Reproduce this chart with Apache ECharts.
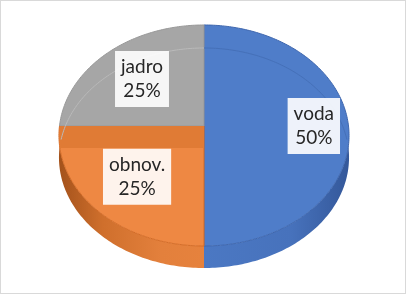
<!DOCTYPE html>
<html>
<head>
<meta charset="utf-8">
<script src="https://cdn.jsdelivr.net/npm/echarts@6/dist/echarts.min.js"></script>
<style>
  html, body { margin: 0; padding: 0; background: #fff; }
  #chart { width: 406px; height: 294px; box-sizing: border-box; border: 1px solid #D9D9D9; }
</style>
</head>
<body>
<div id="chart"></div>
<script>
// ---- data ----
const categories = ['voda', 'obnov.', 'jadro'];
const values = [50, 25, 25];

// ---- styles / layout (not data) ----
const topColors   = ['#4F7DC9', '#EE8843', '#A6A6A6'];
const edgeColors  = ['#3F67AE', '#D46C27', '#999999'];
const wallColors  = ['#456FB8', '#E07B35', '#999999'];
const backLineColors = ['#4570B8', '#E07B35', '#BABABA'];
const sideGradients = [
  [[0, '#4B78C3'], [0.6, '#4772BC'], [1, '#34589A']],
  [[0, '#A4521B'], [0.3, '#CF6F2C'], [0.7, '#E3803C'], [1, '#E6823D']],
  [[0, '#8F8F8F'], [1, '#A0A0A0']]
];
const labelRadius = [0.76, 0.63, 0.63];

const CX = 203, CY = 125, RX = 144.5, RY = 109.7, K = 0.086, DEPTH = 22;

function proj(theta, r, dz) {
  const u = r * Math.sin(theta), v = -r * Math.cos(theta);
  const s = 1 / (1 - K * v);
  return [CX + RX * u * s, CY + RY * v * s + dz];
}
function arc(a, b, r, dz) {
  const pts = [];
  const n = Math.max(2, Math.ceil(Math.abs(b - a) / (Math.PI / 180)));
  for (let j = 0; j <= n; j++) pts.push(proj(a + (b - a) * j / n, r, dz));
  return pts;
}

const total = values.reduce((s, v) => s + v, 0);
const chart = echarts.init(document.getElementById('chart'), null, { renderer: 'canvas' });

function renderItem(params, api) {
  const i = params.dataIndex;
  const val = api.value(0);
  let before = 0;
  for (let j = 0; j < i; j++) before += values[j];
  const a0 = before / total * Math.PI * 2;
  const a1 = a0 + val / total * Math.PI * 2;
  const children = [];

  // outer side wall (front half)
  const sa = Math.max(a0, Math.PI / 2), sb = Math.min(a1, Math.PI * 3 / 2);
  if (sb > sa) {
    const pts = arc(sa, sb, 1, 0).concat(arc(sb, sa, 1, DEPTH));
    children.push({
      type: 'polygon', shape: { points: pts },
      style: { fill: new echarts.graphic.LinearGradient(0, 0, 1, 0,
        sideGradients[i].map(c => ({ offset: c[0], color: c[1] }))) },
      z2: 1
    });
  }

  // top face
  const topPts = [[CX, CY]].concat(arc(a0, a1, 1, 0));
  children.push({
    type: 'polygon', shape: { points: topPts },
    style: { fill: topColors[i], stroke: edgeColors[i], lineWidth: 1 },
    z2: 2
  });

  // end cut wall (visible as band)
  const e0 = proj(a1, 0, 0), e1 = proj(a1, 1, 0), e2 = proj(a1, 1, DEPTH), e3 = proj(a1, 0, DEPTH);
  children.push({
    type: 'polygon', shape: { points: [e0, e1, e2, e3] },
    style: { fill: wallColors[i] }, z2: 3
  });

  // faint back bevel line
  const ranges = [[-Math.PI * 85 / 180, Math.PI * 85 / 180]];
  ranges.forEach(function (rg) {
    // map slice range into [-pi, pi)
    let s0 = a0, s1 = a1;
    [[s0, s1], [s0 - Math.PI * 2, s1 - Math.PI * 2]].forEach(function (p) {
      const la = Math.max(p[0], rg[0]), lb = Math.min(p[1], rg[1]);
      if (lb > la) {
        children.push({
          type: 'polyline', shape: { points: arc(la, lb, 1, DEPTH + 1) },
          style: { stroke: backLineColors[i], lineWidth: 1, fill: null }, z2: 3
        });
      }
    });
  });

  // label
  const mid = (a0 + a1) / 2;
  const lp = proj(mid, labelRadius[i], 0);
  const pct = Math.round(val / total * 100) + '%';
  children.push({
    type: 'text', x: lp[0], y: lp[1], z2: 10,
    style: {
      text: categories[i] + '\n' + pct,
      fill: '#262626',
      font: '19px Lato',
      lineHeight: 24,
      align: 'center', verticalAlign: 'middle',
      backgroundColor: 'rgba(255,255,255,0.9)',
      padding: [4, 6, 4, 6],
      boxShadowBlur: 4, boxShadowColor: 'rgba(0,0,0,0.25)',
      boxShadowOffsetX: 1, boxShadowOffsetY: 1
    }
  });

  return { type: 'group', children: children };
}

chart.setOption({
  animation: false,
  backgroundColor: '#fff',
  series: [{
    type: 'custom',
    coordinateSystem: 'none',
    renderItem: renderItem,
    data: values.map((v, i) => ({ name: categories[i], value: [v] }))
  }]
});
</script>
</body>
</html>
